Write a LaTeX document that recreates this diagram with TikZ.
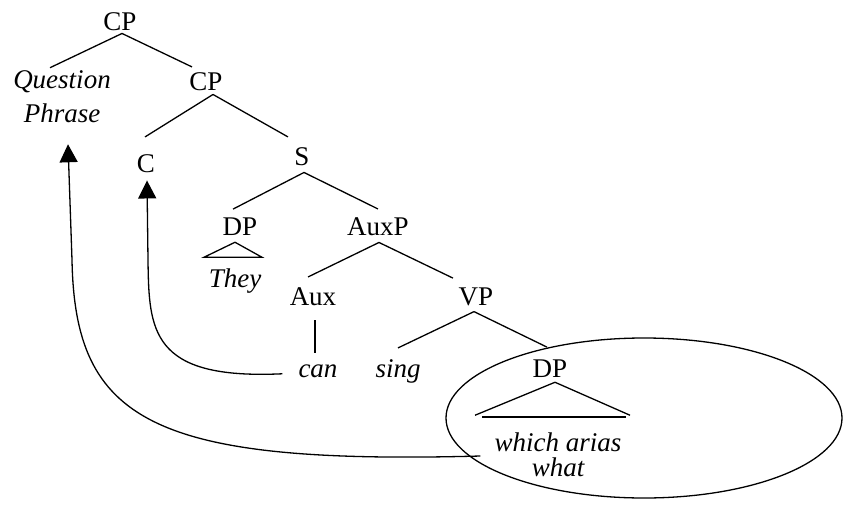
\documentclass[tikz,border=0pt]{standalone}
\usepackage{fontspec}
\setmainfont{Liberation Serif}
\usetikzlibrary{arrows.meta}
\begin{document}
\begin{tikzpicture}[x=1pt,y=-1pt,
  lab/.style={inner sep=0pt,anchor=base,font=\fontsize{27}{30}\selectfont},
  itlab/.style={lab,font=\fontsize{27}{30}\selectfont\itshape},
  branch/.style={line width=1.3pt},
  move/.style={line width=1.3pt,-{Triangle[length=18pt,width=18pt]}}]
\useasboundingbox (0,0) rectangle (846,506);
% nodes
\node[lab] (cp1) at (120,30) {CP};
\node[inner sep=0pt,align=center,font=\fontsize{27}{34}\selectfont\itshape] (qp) at (62,97) {Question\\Phrase};
\node[lab] (cp2) at (206,90) {CP};
\node[lab] (c) at (146,172) {C};
\node[lab] (s) at (302,165) {S};
\node[lab] (dp1) at (240,235) {DP};
\node[itlab] (they) at (235,287) {They};
\node[lab] (auxp) at (378,235) {AuxP};
\node[lab] (aux) at (313,305) {Aux};
\node[lab] (vp) at (476,305) {VP};
\node[itlab] (can) at (318,377) {can};
\node[itlab] (sing) at (398,377) {sing};
\node[lab] (dp2) at (550,377) {DP};
\node[inner sep=0pt,align=center,font=\fontsize{27}{25}\selectfont\itshape] (wa) at (558,455) {which arias\\what};
% branches
\draw[branch] ([shift={(2,3)}]cp1.south) -- ([shift={(-12,-3)}]qp.north);
\draw[branch] ([shift={(2,3)}]cp1.south) -- ([shift={(-14,-5)}]cp2.north);
\draw[branch] ([shift={(7,4)}]cp2.south) -- ([shift={(-1,-17)}]c.north);
\draw[branch] ([shift={(7,4)}]cp2.south) -- ([shift={(-14,-10)}]s.north);
\draw[branch] ([shift={(2,7)}]s.south) -- ([shift={(-7,-8)}]dp1.north);
\draw[branch] ([shift={(2,7)}]s.south) -- ([shift={(0,-8)}]auxp.north);
\draw[branch] ([shift={(-5,7)}]dp1.south) -- ++(-31,15) -- ++(58,0) -- cycle;
\draw[branch] ([shift={(1,7)}]auxp.south) -- ([shift={(-5,-10)}]aux.north);
\draw[branch] ([shift={(1,7)}]auxp.south) -- ([shift={(-23,-9)}]vp.north);
\draw[branch] ([shift={(2,15)}]aux.south) -- ([shift={(-3,-11)}]can.north);
\draw[branch] ([shift={(-2,6)}]vp.south) -- ([shift={(0,-11)}]sing.north);
\draw[branch] ([shift={(-2,6)}]vp.south) -- ([shift={(-3,-12)}]dp2.north);
\draw[branch] ([shift={(-75,38)}]dp2.south) -- ([shift={(5,5)}]dp2.south) -- ([shift={(80,38)}]dp2.south);
\draw[line width=2.2pt] ([shift={(-68,39.5)}]dp2.south) -- ([shift={(76,39.5)}]dp2.south);
% ellipse
\draw[line width=1.3pt] (644,418) ellipse [x radius=198pt, y radius=80pt];
% movement arrows
\draw[move] ([shift={(-14,1)}]wa.west) .. controls (150,465) and (75,420) .. (72,260) -- ([shift={(6,21)}]qp.south);
\draw[move] ([shift={(-16,3)}]can.west) .. controls (150,380) and (149,330) .. (148,260) -- ([shift={(1,8)}]c.south);
\end{tikzpicture}
\end{document}
